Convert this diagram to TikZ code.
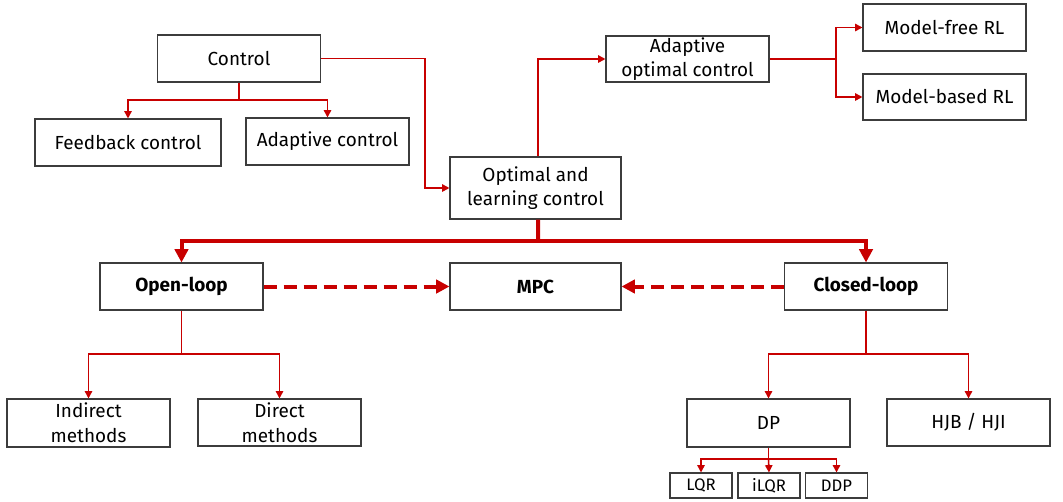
\documentclass[tikz,border=0pt]{standalone}
\usepackage{fontspec}
\setmainfont{Fira Sans}
\usetikzlibrary{arrows.meta}
\definecolor{cred}{RGB}{200,0,0}
\definecolor{cbox}{RGB}{60,60,60}
\tikzset{
  box/.style={draw=cbox, line width=0.8pt, fill=white, inner sep=0pt, align=center,
    minimum width=122.25pt, minimum height=35.25pt, font=\fontsize{14.2}{18.5}\selectfont},
  bbox/.style={box, font=\fontsize{14.2}{18.5}\selectfont\bfseries},
  sbox/.style={box, minimum width=46.5pt, minimum height=18.75pt, font=\fontsize{12.5}{14}\selectfont},
  conn/.style={draw=cred, line width=1.2pt, -{Triangle[length=5.5pt,width=5.5pt]}},
  plain/.style={draw=cred, line width=1.2pt},
  thickconn/.style={draw=cred, line width=3pt, -{Triangle[length=10pt,width=10pt]}},
  thickplain/.style={draw=cred, line width=3pt},
  dashconn/.style={draw=cred, line width=3pt, dash pattern=on 10pt off 5pt, -{Triangle[length=10pt,width=10pt]}}
}
\begin{document}
\begin{tikzpicture}[x=0.75pt,y=-0.75pt]
\useasboundingbox (0,0) rectangle (1063,501);
\node[box] (ctrl) at (239,58.5) {Control};
\node[box, minimum width=139.5pt] (fb) at (128,142.5) {Feedback control};
\node[box] (ad) at (327.5,141.5) {Adaptive control};
\node[box, minimum width=128.25pt, minimum height=46.5pt] (opt) at (535.5,188) {Optimal and\\learning control};
\node[box, minimum height=34.5pt] (aoc) at (687.5,59) {Adaptive\\optimal control};
\node[box] (mf) at (944.5,27.5) {Model-free RL};
\node[box, minimum height=34.5pt] (mb) at (944.5,97) {Model-based RL};
\node[bbox] (open) at (181.5,286.5) {Open-loop};
\node[bbox, minimum width=128.25pt] (mpc) at (535.5,286.5) {MPC};
\node[bbox] (closed) at (866,286.5) {Closed-loop};
\node[box, minimum height=36pt] (ind) at (88.5,423) {Indirect\\methods};
\node[box] (dir) at (279.5,422.5) {Direct\\methods};
\node[box, minimum height=36pt] (dp) at (768.5,423) {DP};
\node[box] (hjb) at (968.5,422.5) {HJB / HJI};
\node[sbox] (lqr) at (701,485.5) {LQR};
\node[sbox] (ilqr) at (769,485.5) {iLQR};
\node[sbox] (ddp) at (836.5,485.5) {DDP};
% Control branches
\coordinate (k0) at (239,100);
\draw[plain] (ctrl.south) -- (k0);
\draw[conn] (k0) -| (fb.north);
\draw[conn] (k0) -| (ad.north);
\coordinate (k1) at (425,0);
\draw[conn] (ctrl.east) -| (k1 |- opt.west) -- (opt.west);
% optimal to adaptive optimal
\draw[conn] ([xshift=2pt]opt.north) |- (aoc.west);
\coordinate (k2) at (836,59);
\draw[plain] (aoc.east) -- (k2);
\draw[conn] (k2) |- (mf.west);
\draw[conn] (k2) |- (mb.west);
% thick
\coordinate (k3) at (538,241);
\draw[thickplain] ([xshift=2pt]opt.south) -- (k3);
\draw[thickconn] (k3) -| (open.north);
\draw[thickconn] (k3) -| (closed.north);
% dashed
\draw[dashconn] (open.east) -- (mpc.west);
\draw[dashconn] (closed.west) -- (mpc.east);
% open-loop
\coordinate (k4) at (181.5,354);
\draw[plain] (open.south) -- (k4);
\draw[conn] (k4) -| (ind.north);
\draw[conn] (k4) -| (dir.north);
% closed-loop
\coordinate (k5) at (866,354);
\draw[plain] (closed.south) -- (k5);
\draw[conn] (k5) -| (dp.north);
\draw[conn] (k5) -| (hjb.north);
% DP
\coordinate (k6) at (768.5,459);
\draw[plain] (dp.south) -- (k6);
\draw[conn] (k6) -| (lqr.north);
\draw[conn] (k6) -- (ilqr.north);
\draw[conn] (k6) -| (ddp.north);
\end{tikzpicture}
\end{document}
